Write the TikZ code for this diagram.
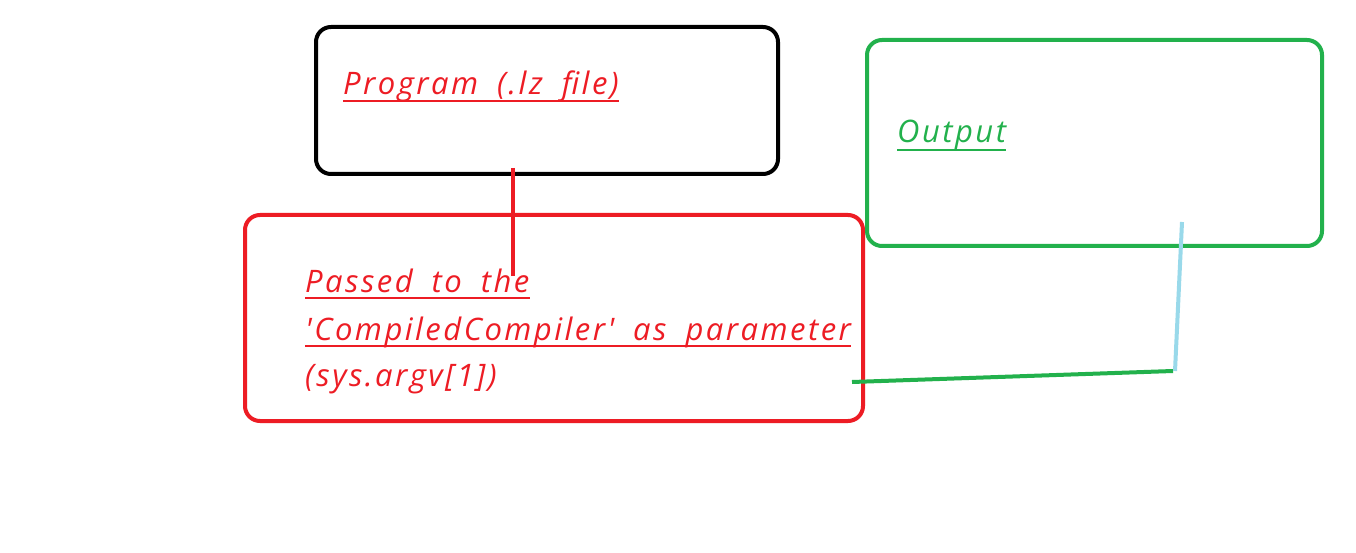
\documentclass[tikz,border=0pt]{standalone}
\usepackage{fontspec}
\setmainfont{Open Sans}
\newfontfamily\handfont[LetterSpace=8,WordSpace=1.8]{Open Sans}
\definecolor{pred}{HTML}{ED1C24}
\definecolor{pgreen}{HTML}{22B14C}
\definecolor{pblue}{HTML}{99D9EA}
\begin{document}
\begin{tikzpicture}[x=1pt,y=-1pt,
  box/.style={draw, line width=4pt, rounded corners=15pt, inner sep=0pt},
  lbl/.style={anchor=base west, inner sep=0pt, font=\handfont\fontsize{31}{36}\selectfont\itshape},
  uline/.style={line width=2pt}]
\useasboundingbox (0,0) rectangle (1356,553);
\fill[white] (0,0) rectangle (1356,553);
% boxes
\node[box, black, minimum width=462pt, minimum height=147pt] (prog) at (547,100.5) {};
\node[box, pred, minimum width=618pt, minimum height=206pt] (pass) at (554,318) {};
\node[box, pgreen, minimum width=455pt, minimum height=206pt] (out) at (1094.5,143) {};
% texts
\node[lbl, pred] (t1) at (343,95) {Program (.lz file)};
\draw[uline, pred] ([yshift=-6pt]t1.base west) -- ([yshift=-6pt]t1.base east);
\node[lbl, pred] (t2) at (305,292) {Passed to the};
\draw[uline, pred] ([yshift=-6pt]t2.base west) -- ([yshift=-6pt]t2.base east);
\node[lbl, pred] (t3) at (305,340) {'CompiledCompiler' as parameter};
\draw[uline, pred] ([yshift=-6pt]t3.base west) -- ([yshift=-6pt]t3.base east);
\node[lbl, pred] (t4) at (305,386) {(sys.argv[1])};
\node[lbl, pgreen] (t5) at (897,143) {Output};
\draw[uline, pgreen] ([yshift=-7pt]t5.base west) -- ([yshift=-7pt]t5.base east);
% connectors
\coordinate (a1) at (513,168);
\coordinate (a2) at (513,276);
\draw[pred, line width=3.5pt] (a1) -- (a2);
\coordinate (g1) at (852,382);
\coordinate (g2) at (1173,371);
\draw[pgreen, line width=4pt] (g1) -- (g2);
\coordinate (b1) at (1175,371);
\coordinate (b2) at (1182,222);
\draw[pblue, line width=4pt] (b1) -- (b2);
\end{tikzpicture}
\end{document}
